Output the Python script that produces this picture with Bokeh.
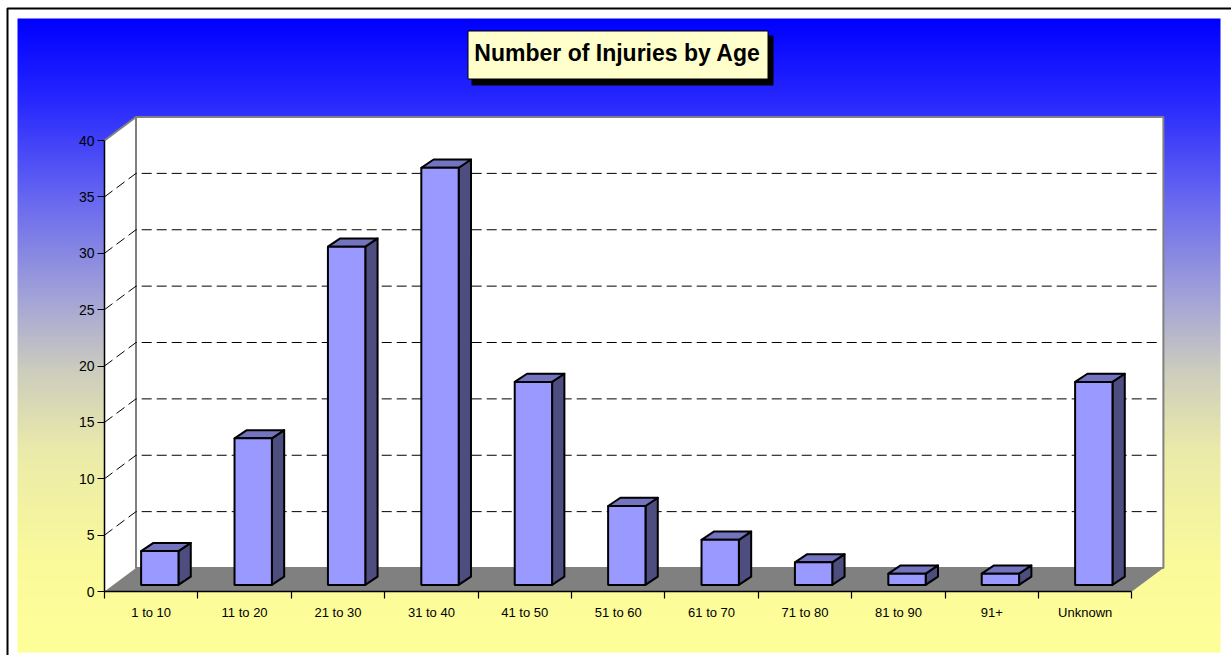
import numpy as np
from bokeh.plotting import figure
from bokeh.models import Range1d, LinearAxis, FixedTicker
from bokeh.core.properties import value
from bokeh.embed import file_html
from bokeh.resources import INLINE

# ---------- data ----------
categories = ["1 to 10", "11 to 20", "21 to 30", "31 to 40", "41 to 50", "51 to 60",
              "61 to 70", "71 to 80", "81 to 90", "91+", "Unknown"]
injuries = [3, 13, 30, 37, 18, 7, 4, 2, 1, 1, 18]
y_ticks = [0, 5, 10, 15, 20, 25, 30, 35, 40]
title_text = "Number of Injuries by Age"

# ---------- layout (page pixels) ----------
W, H = 1231, 655
X0, XSTEP = 104.0, 93.4      # px of category 0 and px per category
Y0, YSTEP = 591.0, 11.275    # px of value 0 and px per unit
DEPTH_X, DEPTH_Y = 31.5, 23.5   # depth of the 3D box
BAR_W = 0.40
BAR_FX, BAR_FY = 8.6, 6.6       # front of bars, set back from front plane
BAR_DX, BAR_DY = 12.3, 8.2      # depth of bar

dx = lambda px: (px - X0) / XSTEP       # page x -> data x
dy = lambda py: (Y0 - py) / YSTEP       # page y -> data y
ox = lambda px: px / XSTEP              # x pixels -> x units
oy = lambda py: py / YSTEP              # y pixels -> y units

p = figure(width=W, height=H, output_backend="svg", toolbar_location=None,
           x_axis_type=None, y_axis_type=None, min_border=0,
           x_range=Range1d(dx(0), dx(W)), y_range=Range1d(dy(H), dy(0)),
           background_fill_color="white", border_fill_color="white",
           outline_line_color=None)
p.styles = {"position": "absolute", "left": "0px", "top": "0px"}
p.grid.visible = False

# ---------- gradient background ----------
stop_py = [18, 100, 200, 300, 370, 450, 560, 652]
stop_r = [0, 40, 105, 165, 205, 235, 250, 255]
stop_b = [255, 255, 240, 215, 190, 170, 155, 153]
rows = np.arange(18, 652)
r = np.interp(rows, stop_py, stop_r).astype(np.uint32)
b = np.interp(rows, stop_py, stop_b).astype(np.uint32)
img = (255 << 24) | (b << 16) | (r << 8) | r
img = img[::-1].reshape(-1, 1)
p.image_rgba(image=[img], x=dx(17), y=dy(652), dw=ox(1220 - 17), dh=oy(652 - 18))

# ---------- outer frame line ----------
p.line([dx(7), dx(7), dx(W)], [dy(H), dy(8), dy(8)], line_color="black", line_width=2)

# ---------- 3D box ----------
n = len(categories)
top = y_ticks[-1]
ddx, ddy = ox(DEPTH_X), oy(DEPTH_Y)
# side wall
p.patch([0, ddx, ddx, 0], [top, top + ddy, ddy, 0], fill_color="white",
        line_color=None)
p.line([0, ddx], [top, top + ddy], line_color="#808080", line_width=2)
# back wall
p.quad(left=[ddx], right=[n + ddx], bottom=[ddy], top=[top + ddy],
       fill_color="white", line_color="#808080", line_width=2)
# floor
p.patch([0, n, n + ddx, ddx], [0, 0, ddy, ddy], fill_color="#808080", line_color=None)

# gridlines
for v in y_ticks[1:-1]:
    p.line([0, ddx, n + ddx - ox(3)], [v, v + ddy, v + ddy], line_color="black",
           line_width=1, line_dash="10 5")

# ---------- bars ----------
bw = BAR_W
fx, fy, bx, by = ox(BAR_FX), oy(BAR_FY), ox(BAR_DX), oy(BAR_DY)
lefts = [i + 0.5 - bw / 2 + fx for i in range(n)]
rights = [l + bw for l in lefts]
bottoms = [fy] * n
tops = [v + fy for v in injuries]
side_xs = [[r_, r_ + bx, r_ + bx, r_] for r_ in rights]
side_ys = [[b_, b_ + by, t_ + by, t_] for b_, t_ in zip(bottoms, tops)]
top_xs = [[l, l + bx, r_ + bx, r_] for l, r_ in zip(lefts, rights)]
top_ys = [[t_, t_ + by, t_ + by, t_] for t_ in tops]
p.patches(side_xs, side_ys, fill_color="#4D4D80", line_color="black", line_width=2,
          line_join="round")
p.patches(top_xs, top_ys, fill_color="#7373BF", line_color="black", line_width=2,
          line_join="round")
p.quad(left=lefts, right=rights, bottom=bottoms, top=tops, fill_color="#9999FF",
       line_color="black", line_width=2)

# ---------- axes ----------
def style(ax):
    ax.axis_line_color = "black"
    ax.axis_line_width = 1.5
    ax.major_tick_line_color = "black"
    ax.major_tick_line_width = 1.2
    ax.minor_tick_line_color = None
    ax.major_label_text_color = "black"
    ax.major_label_text_font = "Liberation Sans"

yax = LinearAxis(ticker=FixedTicker(ticks=y_ticks), fixed_location=0, bounds=(0, top))
style(yax)
yax.major_tick_out = 7
yax.major_tick_in = 0
yax.major_label_text_font_size = "14px"
yax.major_label_standoff = 3
p.add_layout(yax, "left")

# labels sit on the major ticks (category centres, no mark); the category
# boundaries are the visible tick marks, drawn as minor ticks
xax = LinearAxis(ticker=FixedTicker(ticks=[i + 0.5 for i in range(n)],
                                    minor_ticks=list(range(n + 1))),
                 fixed_location=0, bounds=(0, n),
                 major_label_overrides={i + 0.5: c for i, c in enumerate(categories)})
style(xax)
xax.major_tick_line_color = None
xax.major_tick_out = 0
xax.major_tick_in = 0
xax.minor_tick_line_color = "black"
xax.minor_tick_line_width = 1.2
xax.minor_tick_out = 7
xax.minor_tick_in = 0
xax.major_label_standoff = 6
xax.major_label_text_font_size = "13px"
p.add_layout(xax, "below")

# ---------- title box ----------
p.quad(left=[dx(471)], right=[dx(773)], bottom=[dy(85)], top=[dy(35)],
       fill_color="black", line_color=None)
p.quad(left=[dx(467.5)], right=[dx(767.5)], bottom=[dy(78.5)], top=[dy(30.5)],
       fill_color="#FFFFCC", line_color="black", line_width=1)
p.text(x=[dx(617)], y=[dy(52)], text=[title_text], text_align="center",
       text_baseline="middle", text_font=value("Liberation Sans"),
       text_font_style="bold", text_font_size="23px", text_color="black")

open("out.html", "w").write(file_html(p, INLINE))
